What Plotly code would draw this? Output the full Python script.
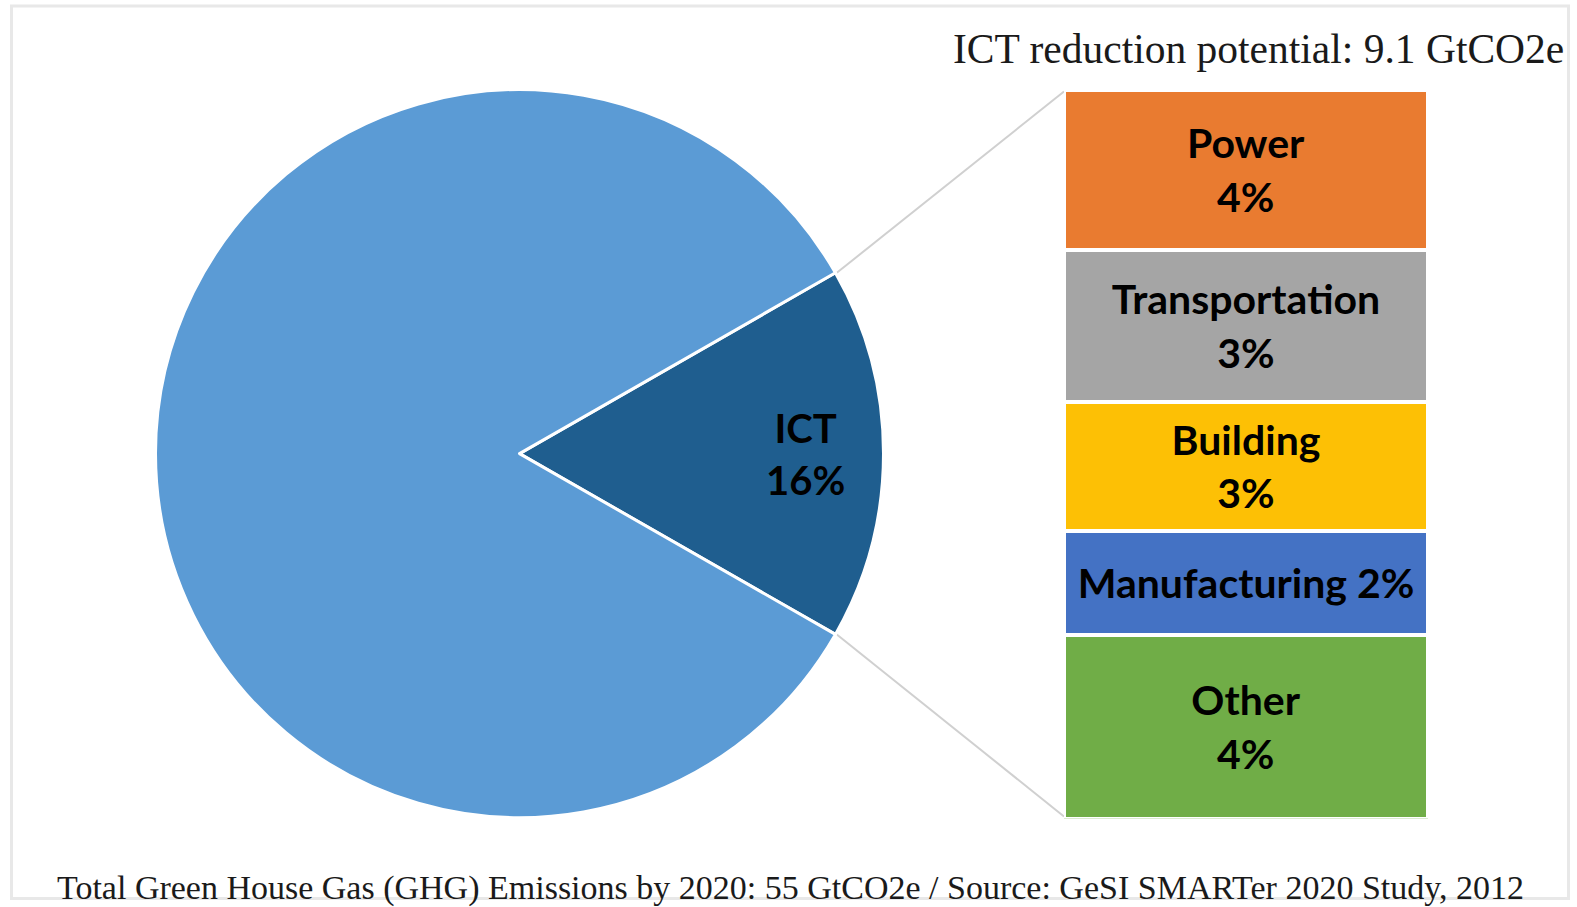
import math
import plotly.graph_objects as go

# ---------------- data ----------------
TOTAL_GHG = 55.0            # GtCO2e, total emissions by 2020
ICT_POTENTIAL = 9.1         # GtCO2e, ICT reduction potential
pie_labels = ["ICT", "Rest"]
pie_values = [ICT_POTENTIAL, TOTAL_GHG - ICT_POTENTIAL]
ict_label = "ICT<br>16%"

sectors = ["Power", "Transportation", "Building", "Manufacturing", "Other"]
sector_values = [2.0, 1.9, 1.6, 1.3, 2.3]          # GtCO2e (sum 9.1)
sector_text = ["Power<br>4%", "Transportation<br>3%", "Building<br>3%",
               "Manufacturing 2%", "Other<br>4%"]
sector_colors = ["#E97B30", "#A5A5A5", "#FDC005", "#4472C4", "#70AD47"]

title_text = "ICT reduction potential: 9.1 GtCO2e"
caption_text = ("Total Green House Gas (GHG) Emissions by 2020: 55 GtCO2e / "
                "Source: GeSI SMARTer 2020 Study, 2012")

# ---------------- layout geometry (px) ----------------
W, H = 1577, 907
cx, cy, rad = 519.5, 453.6, 361.5    # pie centre / radius
pie_pad = 2.5                        # compensate plotly's inner pie padding
bar_x0, bar_x1 = 1064, 1428          # bar column
bar_y0, bar_y1 = 89.5, 818.5         # bar top / bottom


def px(x):
    return x / W


def py(y):
    return 1 - y / H


fig = go.Figure()

half = pie_values[0] / sum(pie_values) * 180.0
R = rad + pie_pad
fig.add_trace(go.Pie(
    labels=pie_labels, values=pie_values,
    textinfo="none",
    sort=False, direction="clockwise", rotation=90 - half,
    marker=dict(colors=["#1F5E8F", "#5B9BD5"], line=dict(color="white", width=3)),
    domain=dict(x=[px(cx - R), px(cx + R)], y=[py(cy + R), py(cy - R)]),
    hoverinfo="label+value", showlegend=False,
))

# stacked bar (bottom to top)
for name, val, txt, col in reversed(list(zip(sectors, sector_values, sector_text, sector_colors))):
    fig.add_trace(go.Bar(
        x=[0], y=[val], name=name, text=[txt],
        textposition="inside", insidetextanchor="middle", textangle=0,
        constraintext="none",
        textfont=dict(family="Lato", size=41, color="black", weight="bold"),
        marker=dict(color=col, line=dict(color="white", width=4)),
        width=1, showlegend=False, xaxis="x", yaxis="y",
    ))

total_sector = sum(sector_values)

# connector lines from pie wedge edge to bar corners
shapes = []
a = math.radians(half)
ex = cx + rad * math.cos(a)
ey_top = cy - rad * math.sin(a)
ey_bot = cy + rad * math.sin(a)
for (x0, y0, y1) in [(ex, ey_top, bar_y0 + 2), (ex, ey_bot, bar_y1 - 2)]:
    shapes.append(dict(type="line", xref="paper", yref="paper",
                       x0=px(x0 + 2), y0=py(y0), x1=px(bar_x0), y1=py(y1),
                       line=dict(color="#D0D0D0", width=2), layer="below"))
# faint frame
shapes.append(dict(type="rect", xref="paper", yref="paper",
                   x0=px(11.5), y0=py(898.5), x1=px(1568.5), y1=py(6),
                   line=dict(color="#E8E8E8", width=3), layer="below"))

# ICT label placed along the wedge bisector
lab_r = 0.79 * rad

fig.update_layout(
    width=W, height=H, autosize=False,
    margin=dict(l=0, r=0, t=0, b=0),
    paper_bgcolor="white", plot_bgcolor="rgba(0,0,0,0)",
    barmode="stack", bargap=0,
    xaxis=dict(domain=[px(bar_x0), px(bar_x1)], range=[-0.5, 0.5], visible=False, fixedrange=True),
    yaxis=dict(domain=[py(bar_y1), py(bar_y0)], range=[0, total_sector], visible=False, fixedrange=True),
    shapes=shapes,
    annotations=[
        dict(text=ict_label, xref="paper", yref="paper",
             x=px(cx + lab_r), y=py(cy), xanchor="center", yanchor="middle",
             showarrow=False,
             font=dict(family="Lato", size=40, color="black", weight="bold")),
        dict(text=title_text, xref="paper", yref="paper", x=px(1566), y=py(48.5),
             xanchor="right", yanchor="middle", showarrow=False,
             font=dict(family="Liberation Serif", size=41.5, color="#1a1a1a")),
        dict(text=caption_text, xref="paper", yref="paper", x=px(791), y=py(888),
             xanchor="center", yanchor="middle", showarrow=False,
             font=dict(family="Liberation Serif", size=34, color="#1a1a1a")),
    ],
)

fig.write_html(
    "out.html",
    config={"displayModeBar": False},
    post_script="document.body.style.margin='0';document.body.style.overflow='hidden';",
)
